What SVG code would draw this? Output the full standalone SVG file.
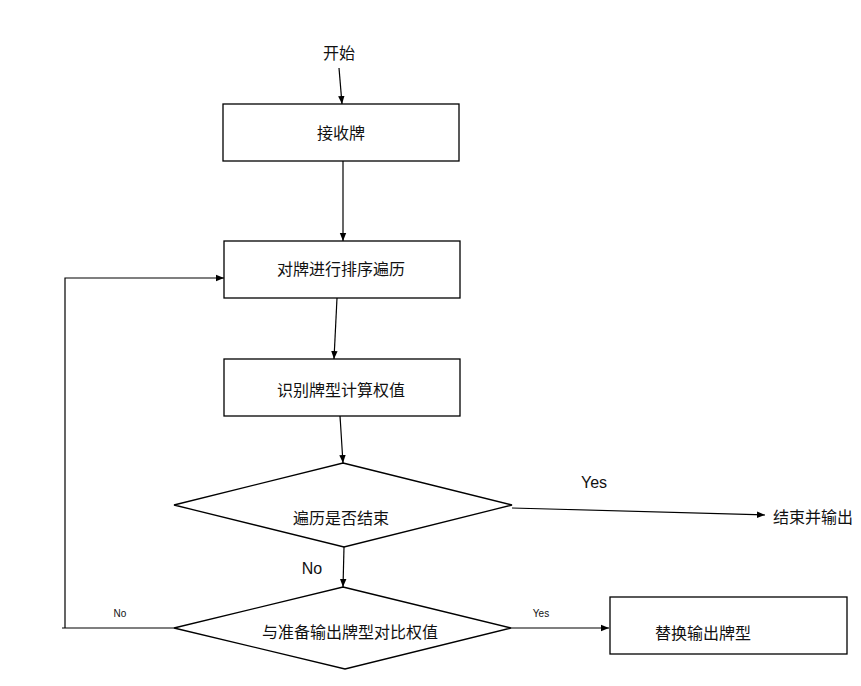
<svg xmlns="http://www.w3.org/2000/svg" width="861" height="686" viewBox="0 0 861 686">
<defs>
<marker id="ah" viewBox="0 0 10 10" refX="10" refY="5" markerWidth="8" markerHeight="8" markerUnits="userSpaceOnUse" orient="auto">
<path d="M0,1 L10,5 L0,9 Z" fill="#000"/>
</marker>
</defs>
<style>
.box{fill:#fff;stroke:#000;stroke-width:1.3}
.t{font-family:"Liberation Sans","Noto Sans CJK SC",sans-serif;font-size:16px;fill:#111;text-anchor:middle}
.s{font-family:"Liberation Sans","Noto Sans CJK SC",sans-serif;font-size:10px;fill:#111;text-anchor:middle}
.c{fill:none;stroke:#000;stroke-width:1.2}
</style>
<rect width="861" height="686" fill="#fff"/>
<g id="connectors">
<line class="c" x1="339" y1="68" x2="342" y2="104" marker-end="url(#ah)"/>
<line class="c" x1="343" y1="161" x2="343" y2="241" marker-end="url(#ah)"/>
<line class="c" x1="337" y1="298" x2="334" y2="359" marker-end="url(#ah)"/>
<line class="c" x1="340" y1="416" x2="343" y2="463" marker-end="url(#ah)"/>
<line class="c" x1="512" y1="508" x2="765" y2="515" marker-end="url(#ah)"/>
<line class="c" x1="344" y1="547" x2="343" y2="587" marker-end="url(#ah)"/>
<line class="c" x1="511" y1="628" x2="609" y2="628" marker-end="url(#ah)"/>
<polyline class="c" points="174,628 62,628"/>
<polyline class="c" points="65,628 65,278 224,278" marker-end="url(#ah)"/>
<text class="t" x="594" y="488">Yes</text>
<text class="t" x="312" y="574">No</text>
<text class="s" x="541" y="617">Yes</text>
<text class="s" x="120" y="617">No</text>
</g>
<g id="start"><text class="t" x="339" y="59">开始</text></g>
<g id="receive"><rect class="box" x="223" y="104" width="236" height="57"/><text class="t" x="341" y="139">接收牌</text></g>
<g id="sort"><rect class="box" x="224" y="241" width="236" height="57"/><text class="t" x="341" y="275">对牌进行排序遍历</text></g>
<g id="identify"><rect class="box" x="224" y="359" width="236" height="57"/><text class="t" x="341" y="396">识别牌型计算权值</text></g>
<g id="done"><polygon class="box" points="343,463 512,505 344,547 174,505"/><text class="t" x="341" y="524">遍历是否结束</text></g>
<g id="end"><text class="t" x="813" y="523">结束并输出</text></g>
<g id="compare"><polygon class="box" points="343,587 511,628 345,669 174,628"/><text class="t" x="350" y="638">与准备输出牌型对比权值</text></g>
<g id="replace"><rect class="box" x="610" y="597" width="237" height="57"/><text class="t" x="703" y="639">替换输出牌型</text></g>
</svg>
